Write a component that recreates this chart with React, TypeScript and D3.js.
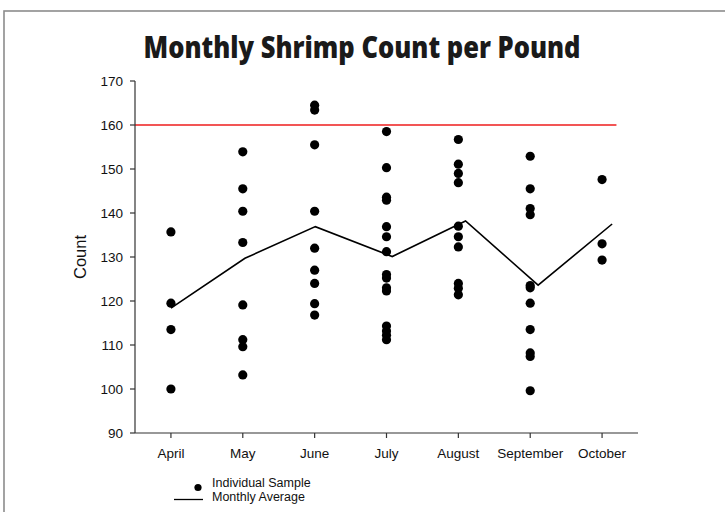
import React from "react";
import * as d3 from "d3";

const months = ["April", "May", "June", "July", "August", "September", "October"];
const aprilSamples = [135.7, 119.5, 113.5, 100.0];
const maySamples = [153.9, 145.5, 140.4, 133.3, 119.1, 111.2, 109.6, 103.2];
const juneSamples = [164.5, 163.4, 155.5, 140.4, 132.0, 127.0, 124.0, 119.4, 116.8];
const julySamples = [158.5, 150.3, 143.6, 142.9, 136.9, 134.6, 131.2, 126.0, 125.2, 123.0, 122.3, 114.3, 113.2, 112.2, 111.2];
const augustSamples = [156.7, 151.1, 149.0, 146.9, 137.0, 134.6, 132.3, 124.0, 122.9, 121.4];
const septemberSamples = [152.9, 145.5, 141.0, 139.6, 123.5, 123.0, 119.5, 113.5, 108.2, 107.4, 99.6];
const octoberSamples = [147.6, 133.0, 129.3];
const samplesByMonth = [aprilSamples, maySamples, juneSamples, julySamples, augustSamples, septemberSamples, octoberSamples];
// monthly average: position along month index, value
const averagePosition = [0, 1.03, 2.01, 3.08, 4.1, 5.11, 6.14];
const averageValues = [118.4, 129.7, 136.9, 130.1, 138.2, 123.6, 137.5];
const yTicks = [90, 100, 110, 120, 130, 140, 150, 160, 170];
const limitValue = 160;
const limitEndPosition = 6.2;

const W = 725;
const H = 512;
const margin = { left: 135, right: 87, top: 81, bottom: 79 };

export default function App() {
  const x0 = margin.left;
  const x1 = W - margin.right;
  const yScale = d3.scaleLinear().domain([90, 170]).range([H - margin.bottom, margin.top]);
  const band = d3.scaleBand<string>().domain(months).range([x0, x1]).padding(0);
  const idx = d3
    .scaleLinear()
    .domain([0, months.length - 1])
    .range([band(months[0])! + band.bandwidth() / 2, band(months[months.length - 1])! + band.bandwidth() / 2]);
  const yBase = yScale(90);
  const font = "'Liberation Sans', Arial, sans-serif";
  const line = d3
    .line<number>()
    .x((_, i) => idx(averagePosition[i]))
    .y((d) => yScale(d));

  return (
    <div style={{ position: "fixed", left: 0, top: 0, width: W, height: H, background: "#fff" }}>
      <svg width={W} height={H} style={{ display: "block" }}>
        <rect x={0} y={0} width={W} height={H} fill="#fff" />
        <rect x={4} y={11} width={W + 10} height={H + 10} fill="none" stroke="#8c8c8c" strokeWidth={1.6} />
        <text
          x={362}
          y={58}
          textAnchor="middle"
          fontFamily="'Open Sans', sans-serif"
          fontWeight={800}
          fontSize={30}
          textLength={437}
          lengthAdjust="spacingAndGlyphs"
          fill="#1a1a1a"
        >
          Monthly Shrimp Count per Pound
        </text>

        {/* limit line */}
        <line
          x1={x0}
          x2={idx(limitEndPosition)}
          y1={yScale(limitValue)}
          y2={yScale(limitValue)}
          stroke="#ee1c1c"
          strokeWidth={1.4}
        />

        {/* axes */}
        <line x1={x0} x2={x0} y1={yScale(170)} y2={yBase} stroke="#333" strokeWidth={1.2} />
        <line x1={x0} x2={x1} y1={yBase} y2={yBase} stroke="#333" strokeWidth={1.2} />
        {yTicks.map((t) => (
          <g key={t}>
            <line x1={x0 - 5} x2={x0} y1={yScale(t)} y2={yScale(t)} stroke="#333" strokeWidth={1.2} />
            <text x={x0 - 12} y={yScale(t) + 5} textAnchor="end" fontFamily={font} fontSize={13.5} fill="#111">
              {t}
            </text>
          </g>
        ))}
        {months.map((m, i) => (
          <g key={m}>
            <line x1={idx(i)} x2={idx(i)} y1={yBase} y2={yBase + 5} stroke="#333" strokeWidth={1.2} />
            <text x={idx(i)} y={458} textAnchor="middle" fontFamily={font} fontSize={13.5} fill="#111">
              {m}
            </text>
          </g>
        ))}
        <text
          transform={`translate(86,${(yScale(170) + yBase) / 2}) rotate(-90)`}
          textAnchor="middle"
          fontFamily={font}
          fontSize={16.5}
          fill="#111"
        >
          Count
        </text>

        {/* samples */}
        {samplesByMonth.map((arr, i) =>
          arr.map((v, j) => <circle key={`${i}-${j}`} cx={idx(i)} cy={yScale(v)} r={4.6} fill="#000" />)
        )}

        {/* average */}
        <path d={line(averageValues) || ""} fill="none" stroke="#000" strokeWidth={1.6} />

        {/* legend */}
        <circle cx={198} cy={487.5} r={3.6} fill="#000" />
        <text x={212} y={487} fontFamily={font} fontSize={12.5} fill="#111">
          Individual Sample
        </text>
        <line x1={174} x2={203} y1={499.5} y2={499.5} stroke="#000" strokeWidth={1.3} />
        <text x={212} y={501} fontFamily={font} fontSize={12.5} fill="#111">
          Monthly Average
        </text>
      </svg>
    </div>
  );
}
